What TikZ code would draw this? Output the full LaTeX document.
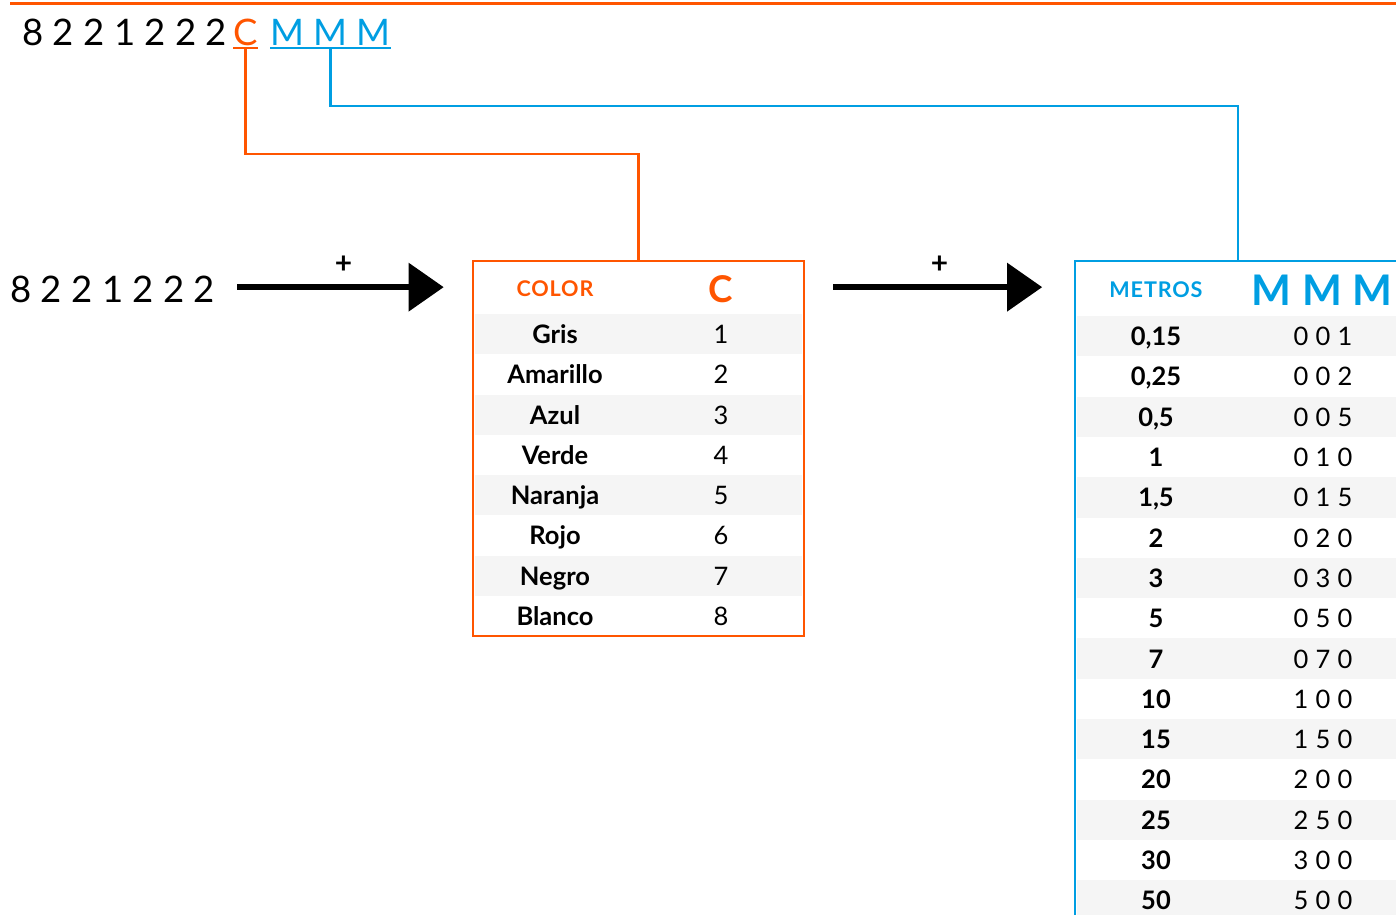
\documentclass[tikz,border=0pt]{standalone}
\usepackage{fontspec}
\setmainfont{Lato}
\usetikzlibrary{arrows.meta}
\definecolor{naranja}{RGB}{255,85,0}
\definecolor{azul}{RGB}{0,158,226}
\definecolor{grisfila}{RGB}{245,245,245}
\tikzset{
	orln/.style={draw=naranja,line width=1.3pt},
	azln/.style={draw=azul,line width=1.3pt},
	gordo/.style={line width=3.4pt,-{Triangle[length=20pt,width=27pt]}},
	cod/.style={inner sep=0pt,anchor=base west,font=\fontsize{20.8}{25}\selectfont},
	cabeza/.style={font=\fontsize{12.3}{15}\selectfont\bfseries\addfontfeature{LetterSpace=4}},
	fila/.style={anchor=base,font=\fontsize{14.5}{17}\selectfont\bfseries},
	valor/.style={anchor=base,font=\fontsize{14.5}{17}\selectfont\addfontfeature{LetterSpace=3}},
	mas/.style={midway,yshift=13pt,font=\fontsize{17}{19}\selectfont\bfseries}
}
\begin{document}
\begin{tikzpicture}[x=0.02cm,y=-0.02cm]
			\clip (0,0) rectangle (1396,914);
			\def\myaltc{40.25}\def\myaltm{40.3}
			\def\mytopc{314}\def\mytopm{316}
			\draw[naranja,line width=1.7pt] (10,3) -- (1400,3);
			% codigo de arriba
			\node[cod] (codn) at (22,45) {8 2 2 1 2 2 2};
			\node[cod,text=naranja] (codc) at (233,45) {C};
			\node[cod,text=azul] (codm) at (270,45) {M M M};
			\draw[orln] ([yshift=-1.5pt]codc.base west) -- ([yshift=-1.5pt]codc.base east);
			\draw[azln] ([yshift=-1.5pt]codm.base west) -- ([yshift=-1.5pt]codm.base east);
			% filas grises
			\foreach \i in {0,2,4,6}
				\fill[grisfila] (475,\mytopc+\i*\myaltc) rectangle (802,\mytopc+\i*\myaltc+\myaltc);
			\foreach \i in {0,2,...,14}
				\fill[grisfila] (1077,\mytopm+\i*\myaltm) rectangle (1400,\mytopm+\i*\myaltm+\myaltm);
			\node[draw=naranja,line width=1.4pt,minimum width=6.62cm,minimum height=7.5cm,inner sep=0pt] (colbox) at (638.5,448.5) {};
			\node[draw=azul,line width=1.4pt,minimum width=6.52cm,minimum height=14.78cm,inner sep=0pt] (metbox) at (1238,630.5) {};
			\draw[orln] ([yshift=-1.5pt]codc.base) -- ++(0,106) -| (colbox.north);
			\draw[azln] ([yshift=-1.5pt]codm.base) -- ++(0,58) -| (metbox.north);
			% cabeceras
			\node[cabeza,text=naranja] (colhd) at (555,289) {COLOR};
			\node[font=\fontsize{21}{25}\selectfont\bfseries,text=naranja] (colc) at (721,289) {C};
			\node[cabeza,text=azul] (methd) at (1156,290) {METROS};
			\node[font=\fontsize{24}{28}\selectfont\bfseries,text=azul] (metm) at (1322,290) {M M M};
			% tabla de colores
			\foreach \nom [count=\i] in {Gris,Amarillo,Azul,Verde,Naranja,Rojo,Negro,Blanco}{
				\node[fila] (col\i) at (555,\mytopc+\i*\myaltc-\myaltc/2+9.5) {\nom};
				\node[valor] (num\i) at (721,\mytopc+\i*\myaltc-\myaltc/2+9.5) {\i};
			}
			% tabla de metros
			\foreach \mt/\cd [count=\i] in {{0,15}/0 0 1,{0,25}/0 0 2,{0,5}/0 0 5,1/0 1 0,{1,5}/0 1 5,2/0 2 0,3/0 3 0,5/0 5 0,7/0 7 0,10/1 0 0,15/1 5 0,20/2 0 0,25/2 5 0,30/3 0 0,50/5 0 0}{
				\node[fila] (met\i) at (1156,\mytopm+\i*\myaltm-\myaltm/2+9.5) {\mt};
				\node[valor] (mcd\i) at (1323,\mytopm+\i*\myaltm-\myaltm/2+9.5) {\cd};
			}
			% flechas
			\node[cod] (izq) at (10,302) {8 2 2 1 2 2 2};
			\draw[gordo,shorten <=12.5pt,shorten >=16pt] ([yshift=1pt]izq.east) -- ([yshift=1pt]izq.east -| colbox.west) node[mas] (mas1) {+};
			\draw[gordo,shorten <=16pt,shorten >=18pt] ([yshift=1pt]izq.east -| colbox.east) -- ([yshift=1pt]izq.east -| metbox.west) node[mas] (mas2) {+};
		\end{tikzpicture}
\end{document}
